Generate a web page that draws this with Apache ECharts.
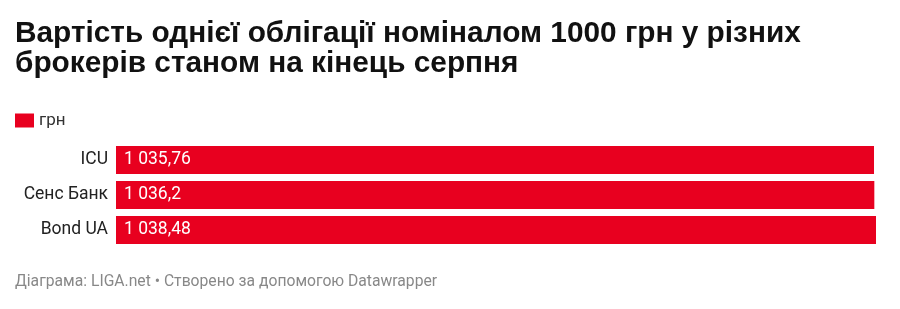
<!DOCTYPE html>
<html><head><meta charset="utf-8">
<script src="https://cdn.jsdelivr.net/npm/echarts@6/dist/echarts.min.js"></script>
<style>html,body{margin:0;padding:0;background:#fff}#c{width:900px;height:309px}</style>
</head><body><div id="c"></div>
<script>
const categories = ['ICU', 'Сенс Банк', 'Bond UA'];
const values = [1035.76, 1036.2, 1038.48];
const valueLabels = ['1 035,76', '1 036,2', '1 038,48'];
const seriesName = 'грн';
const titleText = 'Вартість однієї облігації номіналом 1000 грн у різних\nброкерів станом на кінець серпня';
const footerText = 'Діаграма: LIGA.net • Створено за допомогою Datawrapper';

const chart = echarts.init(document.getElementById('c'), null, {renderer: 'canvas'});
chart.setOption({
  animation: false,
  backgroundColor: '#fff',
  title: {
    text: titleText, left: 15, top: 19, padding: 0,
    textStyle: {fontFamily: 'Liberation Sans', fontWeight: 'bold', fontSize: 29.8, lineHeight: 30, color: '#111'}
  },
  legend: {
    left: 15, top: 112, padding: 0, itemWidth: 19, itemHeight: 14, itemGap: 10,
    icon: 'rect', data: [seriesName],
    textStyle: {fontFamily: 'Roboto', fontSize: 17, color: '#333'}
  },
  graphic: [{
    type: 'text', left: 15, top: 274,
    style: {text: footerText, fontFamily: 'Roboto', fontSize: 15.7, fill: '#888'}
  }],
  grid: {left: 116, right: 24, top: 142.5, height: 105},
  xAxis: {type: 'value', min: 0, max: 1038.48, show: false},
  yAxis: {
    type: 'category', data: categories, inverse: true,
    axisLine: {show: false}, axisTick: {show: false},
    axisLabel: {fontFamily: 'Roboto', fontSize: 17.5, color: '#222', margin: 8}
  },
  series: [{
    name: seriesName, type: 'bar', data: values, barWidth: 28,
    itemStyle: {color: '#e8001f'},
    label: {
      show: true, position: 'insideLeft', distance: 8,
      fontFamily: 'Roboto', fontSize: 17.5, color: '#fff',
      formatter: p => valueLabels[p.dataIndex]
    }
  }]
});
</script></body></html>
